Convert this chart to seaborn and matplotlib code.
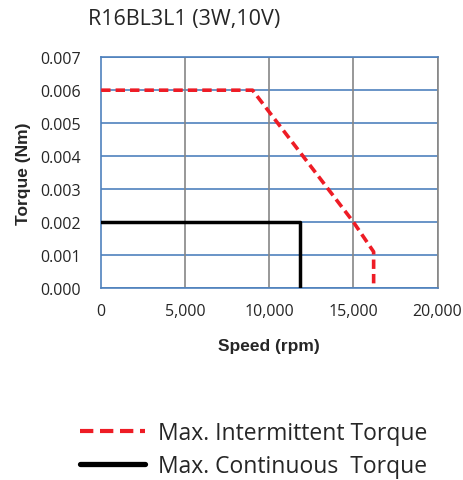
import numpy as np
import pandas as pd
import matplotlib
matplotlib.use("Agg")
import matplotlib.pyplot as plt
import seaborn as sns

# curve data
speed_intermittent = [0, 9000, 15000, 16200, 16200]
torque_intermittent = [0.006, 0.006, 0.002, 0.0011, 0.0]
speed_continuous = [0, 11800, 11800]
torque_continuous = [0.002, 0.002, 0.0]

title = "R16BL3L1 (3W,10V)"
label_int = "Max. Intermittent Torque"
label_cont = "Max. Continuous  Torque"

x_ticks = [0, 5000, 10000, 15000, 20000]
y_ticks = [0.000, 0.001, 0.002, 0.003, 0.004, 0.005, 0.006, 0.007]

blue = "#4F81BD"
grey = "#868686"

sns.set_style("white")
plt.rcParams["font.family"] = ["Open Sans", "DejaVu Sans"]

fig = plt.figure(figsize=(4.64, 4.81), dpi=100)
ax = fig.add_axes([0.218, 0.399, 0.725, 0.480])

df_int = pd.DataFrame({"speed": speed_intermittent, "torque": torque_intermittent})
df_cont = pd.DataFrame({"speed": speed_continuous, "torque": torque_continuous})

sns.lineplot(data=df_int, x="speed", y="torque", sort=False, estimator=None,
             color="#EE1C25", lw=2.6, ax=ax, zorder=4)
ax.lines[-1].set_dashes([2.6, 1.4])
sns.lineplot(data=df_cont, x="speed", y="torque", sort=False, estimator=None,
             color="black", lw=2.5, ax=ax, zorder=4)

ax.set_xlim(0, 20000)
ax.set_ylim(0, 0.007)
ax.set_xticks(x_ticks)
ax.set_yticks(y_ticks)
ax.set_xticklabels([f"{v:,}" for v in x_ticks])
ax.set_yticklabels([f"{v:.3f}" for v in y_ticks])

for y in y_ticks:
    ax.axhline(y, color=blue, lw=1.2, zorder=1)
for x in x_ticks[1:]:
    ax.axvline(x, color=grey, lw=1.2, zorder=1)

for s in ["left", "bottom", "top"]:
    ax.spines[s].set_color(blue)
    ax.spines[s].set_linewidth(1.2)
ax.spines["right"].set_color(grey)
ax.spines["right"].set_linewidth(1.2)

ax.tick_params(axis="both", direction="inout", length=5, width=1.2, color=blue,
               labelsize=11.5)
ax.tick_params(axis="y", pad=12)
ax.tick_params(axis="x", pad=8)

ax.set_xlabel("Speed (rpm)", family="Liberation Sans", fontweight="bold",
              fontsize=12.5, labelpad=14)
ax.set_ylabel("Torque (Nm)", family="Liberation Sans", fontweight="bold",
              fontsize=12.5, labelpad=7)

fig.text(88 / 464, 1 - 20 / 481, title, fontsize=15.5, va="center", ha="left")

h_int = plt.Line2D([], [], color="#EE1C25", lw=3, dashes=[3.2, 1.6])
h_cont = plt.Line2D([], [], color="black", lw=3.8)
fig.legend([h_int, h_cont], [label_int, label_cont], loc="upper left",
           bbox_to_anchor=(80 / 464, 1 - 422 / 481), frameon=False,
           fontsize=16.5, handlelength=2.85, handletextpad=0.55, labelspacing=0.4,
           borderpad=0, borderaxespad=0)

fig.savefig("out.png", dpi=100)
